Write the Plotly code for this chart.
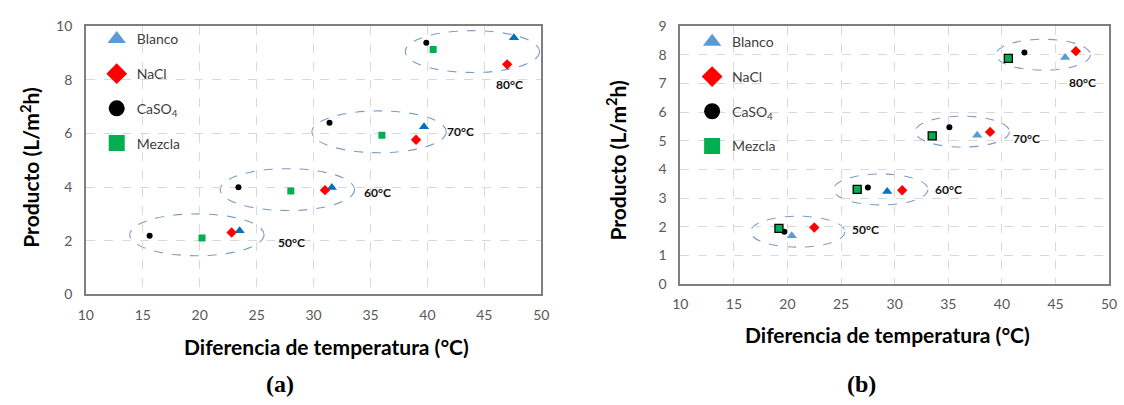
import plotly.graph_objects as go

# ---- data -----------------------------------------------------------------
temps = ["50°C", "60°C", "70°C", "80°C"]

# panel (a)
a_blanco_x = [23.5, 31.6, 39.7, 47.6]
a_blanco_y = [2.38, 3.99, 6.25, 9.57]
a_nacl_x = [22.8, 31.0, 39.0, 47.0]
a_nacl_y = [2.31, 3.89, 5.77, 8.58]
a_caso4_x = [15.6, 23.4, 31.4, 39.9]
a_caso4_y = [2.19, 4.00, 6.40, 9.38]
a_mezcla_x = [20.2, 28.0, 36.0, 40.5]
a_mezcla_y = [2.11, 3.86, 5.94, 9.13]

# panel (b)
b_blanco_x = [20.4, 29.3, 37.7, 45.9]
b_blanco_y = [1.68, 3.23, 5.19, 7.91]
b_nacl_x = [22.5, 30.7, 38.9, 46.9]
b_nacl_y = [1.97, 3.27, 5.31, 8.13]
b_caso4_x = [19.7, 27.5, 35.1, 42.1]
b_caso4_y = [1.82, 3.37, 5.47, 8.08]
b_mezcla_x = [19.2, 26.5, 33.5, 40.6]
b_mezcla_y = [1.94, 3.30, 5.17, 7.88]

x_ticks = [10, 15, 20, 25, 30, 35, 40, 45, 50]
a_y_ticks = [0, 2, 4, 6, 8, 10]
b_y_ticks = list(range(0, 10))

# ---- styles ---------------------------------------------------------------
W, H = 1124, 405
BLUE_DARK = "#0070C0"
BLUE_LIGHT = "#5B9BD5"
RED = "#FF0000"
GREEN = "#00B050"
FONT = "Lato"
TICK_COLOR = "#595959"

# plot areas in pixels: (left, right, top, bottom)
PANEL_A = (79, 541, 18, 298)
PANEL_B = (682, 1117, 18, 287)


def xdom(p):
    return [p[0] / W, p[1] / W]


def ydom(p):
    return [1 - p[3] / H, 1 - p[2] / H]


fig = go.Figure()

series = [
    # name, symbol, colour, size
    ("Blanco", "triangle-up", None, 9),
    ("NaCl", "diamond", RED, 8),
    ("CaSO<sub>4</sub>", "circle", "black", 6),
    ("Mezcla", "square", GREEN, 7),
]

panels = [
    dict(xa="x", ya="y", legend="legend",
         xs=[a_blanco_x, a_nacl_x, a_caso4_x, a_mezcla_x],
         ys=[a_blanco_y, a_nacl_y, a_caso4_y, a_mezcla_y],
         blanco_colors=[BLUE_DARK] * 4,
         mezcla_line=dict(width=0), mezcla_size=7),
    dict(xa="x2", ya="y2", legend="legend2",
         xs=[b_blanco_x, b_nacl_x, b_caso4_x, b_mezcla_x],
         ys=[b_blanco_y, b_nacl_y, b_caso4_y, b_mezcla_y],
         blanco_colors=[BLUE_LIGHT, BLUE_DARK, BLUE_LIGHT, BLUE_LIGHT],
         mezcla_line=dict(width=1.3, color="black"), mezcla_size=8),
]

legend_symbols = {
    "Blanco": ("triangle-up", BLUE_LIGHT),
    "NaCl": ("diamond", RED),
    "CaSO<sub>4</sub>": ("circle", "black"),
    "Mezcla": ("square", GREEN),
}

for p in panels:
    for i, (name, symbol, colour, size) in enumerate(series):
        marker = dict(symbol=symbol, size=size, color=colour, line=dict(width=0))
        if name == "Blanco":
            marker["color"] = p["blanco_colors"]
        if name == "Mezcla":
            marker["line"] = p["mezcla_line"]
            marker["size"] = p["mezcla_size"]
        fig.add_trace(go.Scatter(
            x=p["xs"][i], y=p["ys"][i], mode="markers", name=name,
            marker=marker, showlegend=False, xaxis=p["xa"], yaxis=p["ya"],
            text=temps, hovertemplate="%{text}: %{x}, %{y}<extra>" + name + "</extra>",
        ))
    # legend entries with larger keys
    for k, (name, (sym, col)) in enumerate(legend_symbols.items()):
        fig.add_trace(go.Scatter(
            x=[None], y=[None], mode="markers", name=name,
            marker=dict(symbol=sym, size=16, color=col, line=dict(width=0)),
            showlegend=True, legend=p["legend"], legendgroup=p["legend"] + str(k),
            xaxis=p["xa"], yaxis=p["ya"],
        ))

# ---- ellipses around each temperature group -------------------------------
ELLIPSE_LINE = dict(color="#7C9CC8", width=1.1, dash="dash")


def add_group_ellipses(xs_list, ys_list, rx, ry, xref, yref, dx=0.0, dy=0.0):
    for j in range(len(temps)):
        gx = [xs[j] for xs in xs_list]
        gy = [ys[j] for ys in ys_list]
        cx = (min(gx) + max(gx)) / 2 + dx
        cy = (min(gy) + max(gy)) / 2 + dy
        fig.add_shape(type="circle", xref=xref, yref=yref,
                      x0=cx - rx, x1=cx + rx, y0=cy - ry, y1=cy + ry,
                      line=ELLIPSE_LINE, layer="below")


add_group_ellipses(panels[0]["xs"], panels[0]["ys"], 5.9, 0.78, "x", "y", 0.2, -0.02)
add_group_ellipses(panels[1]["xs"], panels[1]["ys"], 4.4, 0.54, "x2", "y2", 0.1, 0.0)

# ---- temperature labels ---------------------------------------------------
label_pos_a = [(28.1, 1.92), (35.6, 3.79), (42.9, 6.06), (47.2, 7.82)]
label_pos_b = [(27.3, 1.90), (35.0, 3.30), (42.3, 5.08), (47.5, 7.02)]
label_font = dict(family=FONT, size=12, color="#111")
for (lx, ly), t in zip(label_pos_a, temps):
    fig.add_annotation(x=lx, y=ly, xref="x", yref="y", text="<b>" + t + "</b>",
                       showarrow=False, font=label_font)
for (lx, ly), t in zip(label_pos_b, temps):
    fig.add_annotation(x=lx, y=ly, xref="x2", yref="y2", text="<b>" + t + "</b>",
                       showarrow=False, font=label_font)

# ---- axis titles and panel letters ---------------------------------------
title_font = dict(family=FONT, size=21, color="black")
for (x, y, txt, ang) in [
    (22, 166, "<b>Producto (L/m<sup>2</sup>h)</b>", -90),
    (617, 158, "<b>Producto (L/m<sup>2</sup>h)</b>", -90),
    (323, 352, "<b>Diferencia de temperatura (°C)</b>", 0),
    (892, 340, "<b>Diferencia de temperatura (°C)</b>", 0),
]:
    fig.add_annotation(x=x / W, y=1 - y / H, xref="paper", yref="paper", text=txt,
                       textangle=ang, showarrow=False, font=title_font,
                       xanchor="center", yanchor="middle")

for (x, y, txt) in [(276, 391, "<b>(a)</b>"), (866, 391, "<b>(b)</b>")]:
    fig.add_annotation(x=x / W, y=1 - y / H, xref="paper", yref="paper", text=txt,
                       showarrow=False, xanchor="center", yanchor="middle",
                       font=dict(family="Liberation Serif", size=24, color="black"))

# ---- axes -----------------------------------------------------------------
axis_common = dict(
    showgrid=True, gridcolor="#D9D9D9", griddash="dash", gridwidth=1,
    showline=True, linecolor="#7F7F7F", linewidth=1.5, mirror=True,
    ticks="", zeroline=False,
    tickfont=dict(family=FONT, size=14, color=TICK_COLOR),
)

fig.update_layout(
    width=W, height=H,
    margin=dict(l=0, r=0, t=0, b=0),
    paper_bgcolor="white", plot_bgcolor="white",
    showlegend=True,
    xaxis=dict(domain=xdom(PANEL_A), range=[10, 50], tickvals=x_ticks, anchor="y",
               ticklabelstandoff=7, **axis_common),
    yaxis=dict(domain=ydom(PANEL_A), range=[0, 10], tickvals=a_y_ticks, anchor="x",
               ticklabelstandoff=9, **axis_common),
    xaxis2=dict(domain=xdom(PANEL_B), range=[10, 50], tickvals=x_ticks, anchor="y2",
                ticklabelstandoff=6, **axis_common),
    yaxis2=dict(domain=ydom(PANEL_B), range=[0, 9], tickvals=b_y_ticks, anchor="x2",
                ticklabelstandoff=9, **axis_common),
    legend=dict(x=90 / W, y=1 - 15 / H, xanchor="left", yanchor="top",
                bgcolor="rgba(0,0,0,0)", traceorder="grouped", tracegroupgap=13.5,
                font=dict(family=FONT, size=14, color="#404040"),
                itemsizing="trace"),
    legend2=dict(x=694 / W, y=1 - 18 / H, xanchor="left", yanchor="top",
                 bgcolor="rgba(0,0,0,0)", traceorder="grouped", tracegroupgap=13.5,
                 font=dict(family=FONT, size=14, color="#404040"),
                 itemsizing="trace"),
)

fig.write_html("out.html")
